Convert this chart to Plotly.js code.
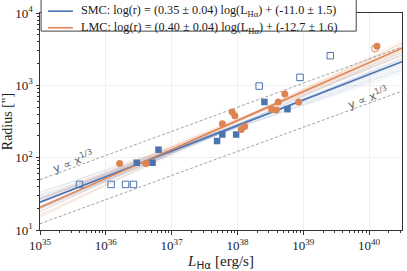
<!DOCTYPE html>
<html><head><meta charset="utf-8">
<script src="https://cdn.plot.ly/plotly-3.0.1.min.js"></script>
<style>html,body{margin:0;padding:0;background:#fff}#plot{width:407px;height:271px}</style>
</head><body><div id="plot"></div>
<script>
// ---- data (log10 values) ----
const smcFilledLogL = [36.47, 36.71, 36.80, 37.69, 37.77, 37.98, 38.41, 38.76];
const smcFilledLogR = [1.93, 1.93, 2.11, 2.23, 2.32, 2.32, 2.77, 2.67];
const smcOpenLogL = [35.60, 36.08, 36.30, 36.42, 38.33, 38.95, 39.41];
const smcOpenLogR = [1.63, 1.63, 1.63, 1.63, 2.99, 3.11, 3.41];
const lmcFilledLogL = [36.21, 36.61, 37.77, 37.92, 37.96, 38.06, 38.11, 38.52, 38.59, 38.62, 38.72, 38.93, 40.12];
const lmcFilledLogR = [1.92, 1.92, 2.47, 2.63, 2.58, 2.39, 2.43, 2.67, 2.66, 2.77, 2.88, 2.77, 3.54];
const lmcOpenLogL = [40.09];
const lmcOpenLogR = [3.51];

// best fits: log(r) = slope*log(L) + intercept
const fitNames = ['SMC', 'LMC'];
const fitSlopes = [0.353, 0.400];
const fitIntercepts = [-10.97, -12.687];
const fitLabels = [
  'SMC: log(r) = (0.35 ± 0.04) log(L<sub>Hα</sub>) + (-11.0 ± 1.5)',
  'LMC: log(r) = (0.40 ± 0.04) log(L<sub>Hα</sub>) + (-12.7 ± 1.6)'
];
// posterior sample lines
const smcSampleSlopes = [0.31, 0.33, 0.35, 0.37, 0.39, 0.32, 0.34, 0.36, 0.38, 0.40, 0.30, 0.355, 0.345, 0.365, 0.335, 0.41, 0.325, 0.375, 0.385, 0.315];
const smcSampleIntercepts = [-9.33, -10.12, -10.84, -11.63, -12.36, -9.75, -10.47, -11.22, -12.01, -12.74, -8.98, -11.06, -10.65, -11.44, -10.28, -13.14, -9.90, -11.82, -12.17, -9.55];
const lmcSampleSlopes = [0.36, 0.38, 0.40, 0.42, 0.44, 0.37, 0.39, 0.41, 0.43, 0.35, 0.395, 0.405, 0.385, 0.415, 0.375, 0.425, 0.365, 0.435, 0.355, 0.445];
const lmcSampleIntercepts = [-11.17, -11.91, -12.70, -13.44, -14.23, -11.53, -12.32, -13.06, -13.85, -10.76, -12.51, -12.87, -12.10, -13.27, -11.74, -13.63, -11.36, -14.03, -10.98, -14.40];
// reference lines y ∝ x^(1/3)
const refSlope = 1/3;
const refIntercepts = [-9.97, -10.58];
const refLabel = 'y ∝ x<sup>1/3</sup>';

const xTickVals = [1e35, 1e36, 1e37, 1e38, 1e39, 1e40];
const xTickText = ['10<sup>35</sup>', '10<sup>36</sup>', '10<sup>37</sup>', '10<sup>38</sup>', '10<sup>39</sup>', '10<sup>40</sup>'];
const yTickVals = [1e1, 1e2, 1e3, 1e4];
const yTickText = ['10<sup>1</sup>', '10<sup>2</sup>', '10<sup>3</sup>', '10<sup>4</sup>'];

// ---- drawing ----
const BLUE = '#4C72B0', ORANGE = '#DD8452';
const COLORS = [BLUE, ORANGE];
const X0 = 35, X1 = 40.5;
const p10 = v => Math.pow(10, v);
function lineTrace(s, b, style, extra) {
  return Object.assign({
    x: [p10(X0), p10(X1)], y: [p10(s*X0 + b), p10(s*X1 + b)],
    mode: 'lines', type: 'scatter', line: style, showlegend: false, hoverinfo: 'skip'
  }, extra || {});
}
const traces = [];
smcSampleSlopes.forEach((s, i) => traces.push(lineTrace(s, smcSampleIntercepts[i], {color: 'rgba(76,114,176,0.10)', width: 1})));
lmcSampleSlopes.forEach((s, i) => traces.push(lineTrace(s, lmcSampleIntercepts[i], {color: 'rgba(221,132,82,0.10)', width: 1})));
refIntercepts.forEach(b => traces.push(lineTrace(refSlope, b, {color: '#8a8a8a', width: 0.8, dash: '3px,2px'})));
COLORS.forEach((c, i) => traces.push(lineTrace(fitSlopes[i], fitIntercepts[i], {color: c, width: 1.6}, {name: fitNames[i]})));

traces.push({x: smcOpenLogL.map(p10), y: smcOpenLogR.map(p10), mode: 'markers', type: 'scatter', showlegend: false,
  marker: {symbol: 'square-open', size: 6.5, color: BLUE, line: {width: 1}}});
traces.push({x: lmcOpenLogL.map(p10), y: lmcOpenLogR.map(p10), mode: 'markers', type: 'scatter', showlegend: false,
  marker: {symbol: 'circle-open', size: 7, color: ORANGE, line: {width: 1}}});
traces.push({x: smcFilledLogL.map(p10), y: smcFilledLogR.map(p10), mode: 'markers', type: 'scatter', showlegend: false,
  marker: {symbol: 'square', size: 6.5, color: BLUE}});
traces.push({x: lmcFilledLogL.map(p10), y: lmcFilledLogR.map(p10), mode: 'markers', type: 'scatter', showlegend: false,
  marker: {symbol: 'circle', size: 7, color: ORANGE}});

function minorVals(lo, hi) {
  const v = [];
  for (let e = lo; e < hi; e++) for (let m = 2; m <= 9; m++) v.push(m * Math.pow(10, e));
  return v;
}
const SERIF = 'Liberation Serif, Times New Roman, serif';
const axisCommon = {
  type: 'log', tickmode: 'array', ticks: 'outside', ticklen: 3.5, tickwidth: 1, tickcolor: '#333',
  showline: true, linecolor: '#333', linewidth: 1, mirror: true, zeroline: false,
  showgrid: true, gridcolor: '#ececec', gridwidth: 0.8,
  tickfont: {family: SERIF, size: 13, color: '#222'}
};

// hand-placed legend box (paper coordinates)
const legendRows = [1.0083, 0.932];
const shapes = [{type: 'rect', xref: 'paper', yref: 'paper', x0: 0.003, x1: 0.8735, y0: 0.9165, y1: 1.07,
  fillcolor: '#fff', line: {color: '#444', width: 1}, layer: 'above'}];
const annotations = [];
COLORS.forEach((c, i) => {
  shapes.push({type: 'line', xref: 'paper', yref: 'paper', x0: 0.022, x1: 0.091, y0: legendRows[i], y1: legendRows[i],
    line: {color: c, width: 1.6}, layer: 'above'});
  annotations.push({xref: 'paper', yref: 'paper', x: 0.108, y: legendRows[i], xanchor: 'left', yanchor: 'middle',
    text: fitLabels[i], showarrow: false, font: {family: SERIF, size: 12.2, color: '#1a1a1a'}});
});
annotations.push(
  {x: 35.5, y: 1.95, xref: 'x', yref: 'y', text: refLabel, showarrow: false, textangle: -20,
    font: {family: 'DejaVu Sans', size: 11.5, color: '#666'}},
  {x: 39.99, y: 2.83, xref: 'x', yref: 'y', text: refLabel, showarrow: false, textangle: -20,
    font: {family: 'DejaVu Sans', size: 11.5, color: '#666'}}
);

const layout = {
  width: 407, height: 271, showlegend: false,
  margin: {l: 40, r: 5, t: 12.5, b: 40.7},
  paper_bgcolor: '#fff', plot_bgcolor: '#fff',
  xaxis: Object.assign({}, axisCommon, {
    range: [X0, X1], tickvals: xTickVals, ticktext: xTickText,
    minor: {tickmode: 'array', tickvals: minorVals(35, 41).filter(v => v < p10(X1)), ticks: 'outside', ticklen: 2, tickcolor: '#333', showgrid: false},
    title: {text: '<i>L</i><sub><span style="font-family:DejaVu Sans">Hα</span></sub> [erg/s]', font: {family: SERIF, size: 15, color: '#222'}, standoff: 2}
  }),
  yaxis: Object.assign({}, axisCommon, {
    range: [1, 4], tickvals: yTickVals, ticktext: yTickText,
    minor: {tickmode: 'array', tickvals: minorVals(1, 4), ticks: 'outside', ticklen: 2, tickcolor: '#333', showgrid: false},
    title: {text: 'Radius ["]', font: {family: SERIF, size: 14, color: '#222'}, standoff: 5}
  }),
  shapes: shapes,
  annotations: annotations
};
Plotly.newPlot('plot', traces, layout, {displayModeBar: false, staticPlot: true});
</script></body></html>
